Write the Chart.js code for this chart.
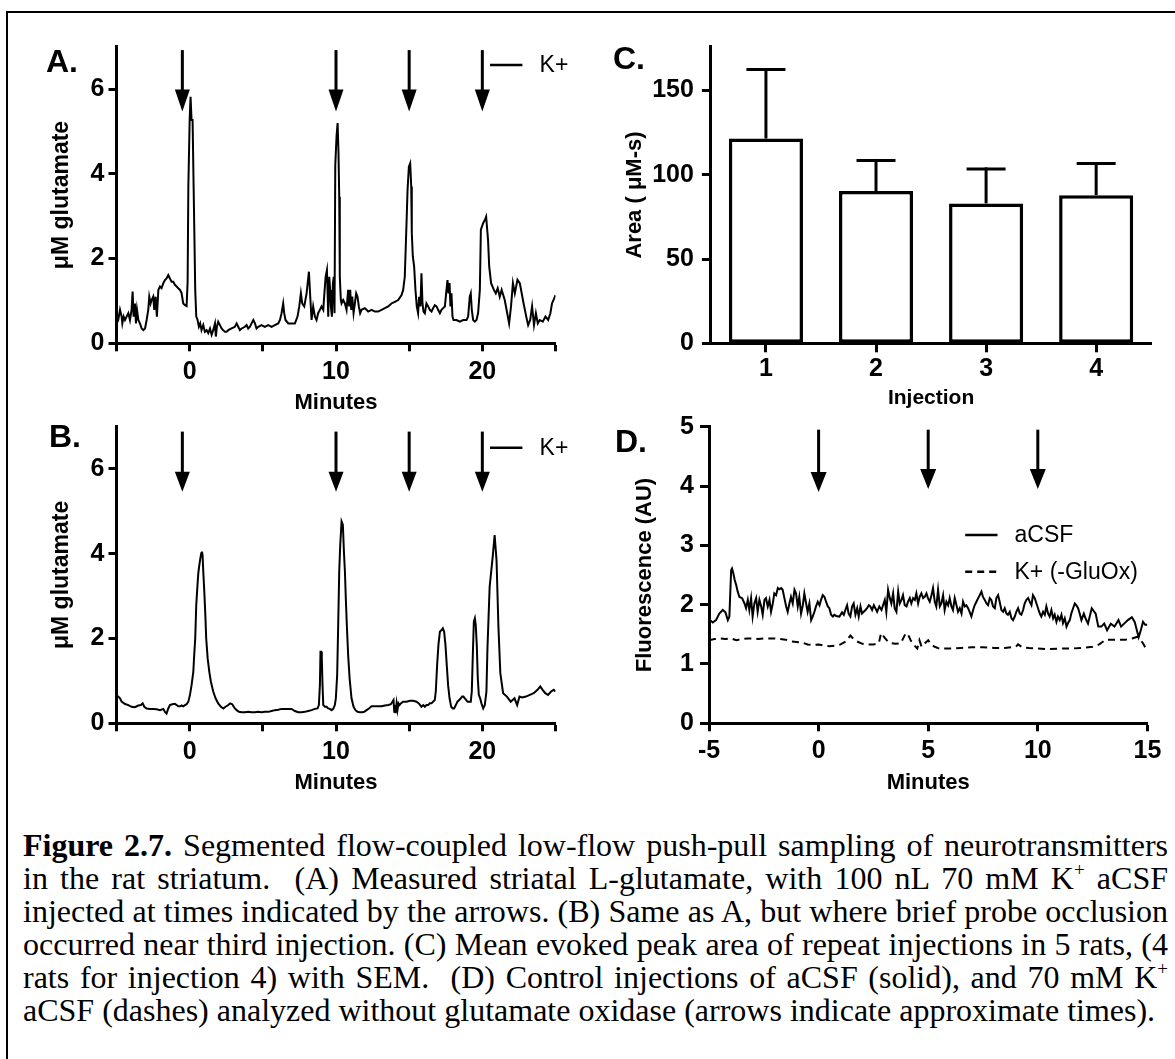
<!DOCTYPE html>
<html>
<head>
<meta charset="utf-8">
<script src="https://cdn.jsdelivr.net/npm/chart.js@4.4.1/dist/chart.umd.min.js"></script>
<style>
html,body{margin:0;padding:0;background:#fff;}
body{width:1175px;height:1059px;position:relative;overflow:hidden;font-family:'Liberation Sans',Arial,sans-serif;color:#000;}
canvas{position:absolute;left:0;top:0;pointer-events:none;}
.frame{position:absolute;left:6px;top:11px;width:1250px;height:1100px;border-top:2px solid #000;border-left:2px solid #000;}
.plabel{position:absolute;font:bold 32px 'Liberation Sans',Arial,sans-serif;line-height:32px;}
.caption{position:absolute;left:23px;top:829px;width:1145px;font-family:'Liberation Serif','Times New Roman',serif;font-size:32px;line-height:33px;color:#000;}
.caption div{white-space:nowrap;height:33px;}
.caption .sp{font-size:19px;position:relative;top:-13px;line-height:0;}
</style>
</head>
<body>
<div class="frame"></div>
<canvas id="cA" width="1175" height="800"></canvas>
<canvas id="cB" width="1175" height="800"></canvas>
<canvas id="cC" width="1175" height="800"></canvas>
<canvas id="cD" width="1175" height="800"></canvas>
<div class="plabel" style="left:46px;top:45px;">A.</div>
<div class="plabel" style="left:49px;top:420px;">B.</div>
<div class="plabel" style="left:613px;top:42px;">C.</div>
<div class="plabel" style="left:615px;top:425px;">D.</div>
<div class="caption">
<div class="j"><span><b>Figure 2.7.</b> Segmented flow-coupled low-flow push-pull sampling of neurotransmitters</span></div>
<div class="j"><span>in the rat striatum.&nbsp; (A) Measured striatal L-glutamate, with 100 nL 70 mM K<span class="sp">+</span> aCSF</span></div>
<div class="j"><span>injected at times indicated by the arrows. (B) Same as A, but where brief probe occlusion</span></div>
<div class="j"><span>occurred near third injection. (C) Mean evoked peak area of repeat injections in 5 rats, (4</span></div>
<div class="j"><span>rats for injection 4) with SEM.&nbsp; (D) Control injections of aCSF (solid), and 70 mM K<span class="sp">+</span></span></div>
<div><span>aCSF (dashes) analyzed without glutamate oxidase (arrows indicate approximate times).</span></div>
</div>
<script>
// ---------------- DATA ----------------
// Panel A: time (min), glutamate (uM)
const traceA = [[-5.0,0.45],[-4.88,0.55],[-4.76,0.79],[-4.65,0.63],[-4.6,0.47],[-4.51,0.63],[-4.42,0.55],[-4.31,0.63],[-4.19,0.71],[-4.08,0.55],[-3.97,0.79],[-3.9,1.22],[-3.83,0.63],[-3.74,0.94],[-3.67,0.47],[-3.6,0.79],[-3.51,0.55],[-3.4,0.47],[-3.28,0.35],[-3.17,0.31],[-3.05,0.35],[-2.94,0.55],[-2.83,0.79],[-2.76,1.1],[-2.67,0.94],[-2.6,1.02],[-2.49,1.1],[-2.42,0.79],[-2.33,1.1],[-2.24,0.63],[-2.14,1.26],[-2.03,1.34],[-1.92,1.3],[-1.8,1.42],[-1.69,1.49],[-1.58,1.53],[-1.46,1.61],[-1.35,1.53],[-1.23,1.45],[-1.12,1.45],[-1.01,1.38],[-0.89,1.34],[-0.78,1.3],[-0.66,1.26],[-0.55,1.18],[-0.44,0.94],[-0.32,0.9],[-0.21,0.88],[-0.14,1.45],[-0.09,3.7],[0.0,5.27],[0.06,5.82],[0.13,5.27],[0.2,5.27],[0.27,3.7],[0.31,2.83],[0.38,1.26],[0.45,0.63],[0.54,0.55],[0.63,0.39],[0.72,0.47],[0.81,0.31],[0.93,0.43],[1.04,0.27],[1.16,0.31],[1.27,0.24],[1.39,0.35],[1.5,0.2],[1.61,0.31],[1.73,0.47],[1.79,0.16],[1.86,0.39],[1.95,0.51],[2.07,0.43],[2.18,0.35],[2.29,0.31],[2.41,0.27],[2.52,0.27],[2.64,0.31],[2.86,0.35],[3.09,0.39],[3.21,0.47],[3.32,0.39],[3.43,0.31],[3.55,0.35],[3.78,0.39],[3.89,0.43],[4.0,0.35],[4.12,0.39],[4.23,0.47],[4.35,0.55],[4.46,0.47],[4.57,0.35],[4.69,0.39],[4.91,0.43],[5.14,0.39],[5.37,0.43],[5.6,0.39],[5.82,0.43],[6.05,0.47],[6.17,0.55],[6.28,0.71],[6.39,0.94],[6.46,0.71],[6.55,0.55],[6.74,0.47],[6.96,0.47],[7.19,0.47],[7.37,0.63],[7.49,0.87],[7.6,1.18],[7.69,0.94],[7.83,0.87],[7.99,1.18],[8.15,1.69],[8.24,1.1],[8.33,0.55],[8.44,0.87],[8.56,0.63],[8.67,0.55],[8.78,0.71],[8.9,0.79],[9.01,0.87],[9.13,0.79],[9.19,1.1],[9.29,1.57],[9.38,1.73],[9.42,1.26],[9.47,0.63],[9.54,1.57],[9.6,1.26],[9.65,0.87],[9.72,0.63],[9.79,1.42],[9.85,1.57],[9.9,0.71],[9.95,4.2],[10.04,4.9],[10.11,5.2],[10.17,4.5],[10.22,3.46],[10.26,1.57],[10.33,1.02],[10.38,0.94],[10.49,1.02],[10.61,0.94],[10.72,0.79],[10.83,1.26],[10.9,0.87],[10.97,1.26],[11.04,0.79],[11.11,1.1],[11.2,0.71],[11.29,0.94],[11.38,1.18],[11.47,1.1],[11.56,0.87],[11.65,0.71],[11.74,0.79],[11.97,0.83],[12.2,0.75],[12.43,0.79],[12.66,0.75],[12.88,0.75],[13.11,0.79],[13.34,0.83],[13.57,0.87],[13.79,0.94],[14.02,0.98],[14.25,1.02],[14.48,1.14],[14.59,1.26],[14.7,1.57],[14.82,2.84],[14.89,3.62],[14.98,4.17],[15.07,4.25],[15.14,3.7],[15.18,2.6],[15.25,2.05],[15.34,1.81],[15.43,1.26],[15.52,0.87],[15.61,0.71],[15.68,1.1],[15.77,0.87],[15.84,1.65],[15.91,0.94],[15.98,0.75],[16.07,0.71],[16.18,0.94],[16.3,0.87],[16.41,0.79],[16.53,0.75],[16.64,0.83],[16.75,0.9],[16.87,0.87],[16.98,0.79],[17.1,0.71],[17.21,0.79],[17.32,0.83],[17.44,0.87],[17.55,1.26],[17.62,1.49],[17.69,1.18],[17.76,1.42],[17.82,0.87],[17.89,1.18],[17.96,0.63],[18.03,0.55],[18.23,0.55],[18.46,0.51],[18.69,0.55],[18.92,0.55],[19.03,0.63],[19.14,1.1],[19.21,1.18],[19.28,0.79],[19.37,0.55],[19.49,0.51],[19.6,0.55],[19.71,0.71],[19.83,1.26],[19.9,2.68],[20.06,2.84],[20.17,2.91],[20.26,2.99],[20.39,2.44],[20.47,1.81],[20.6,1.42],[20.79,1.26],[20.92,1.18],[21.05,1.3],[21.19,1.1],[21.32,1.26],[21.53,1.02],[21.7,0.71],[21.83,0.47],[21.96,0.87],[22.09,1.42],[22.22,1.18],[22.4,1.5],[22.56,1.42],[22.69,1.18],[22.82,0.94],[23.0,0.63],[23.13,0.43],[23.27,0.55],[23.4,0.87],[23.53,0.43],[23.66,0.71],[23.79,0.47],[23.92,0.55],[24.13,0.51],[24.31,0.63],[24.5,0.55],[24.65,0.71],[24.76,0.94],[24.91,1.06],[25.0,1.14]];

// Panel B: time (min), glutamate (uM)
const traceB = [[-5.0,0.65],[-4.88,0.63],[-4.76,0.59],[-4.65,0.51],[-4.42,0.455],[-4.19,0.43],[-3.97,0.39],[-3.74,0.38],[-3.51,0.42],[-3.33,0.43],[-3.21,0.47],[-3.1,0.39],[-2.94,0.35],[-2.71,0.34],[-2.49,0.34],[-2.26,0.33],[-2.03,0.31],[-1.8,0.34],[-1.69,0.27],[-1.58,0.23],[-1.46,0.35],[-1.35,0.43],[-1.19,0.45],[-1.01,0.46],[-0.89,0.43],[-0.78,0.40],[-0.66,0.40],[-0.55,0.42],[-0.44,0.40],[-0.32,0.43],[-0.21,0.45],[-0.09,0.51],[0.02,0.67],[0.13,0.9],[0.25,1.22],[0.31,1.61],[0.38,2.0],[0.45,2.79],[0.52,3.18],[0.59,3.54],[0.66,3.73],[0.73,3.89],[0.79,4.01],[0.84,4.05],[0.88,3.97],[0.93,3.58],[1.0,3.11],[1.07,2.56],[1.13,2.0],[1.23,1.53],[1.34,1.22],[1.45,0.98],[1.61,0.75],[1.77,0.59],[1.95,0.47],[2.14,0.39],[2.3,0.35],[2.45,0.39],[2.64,0.43],[2.77,0.47],[2.91,0.45],[3.05,0.37],[3.21,0.31],[3.37,0.27],[3.55,0.26],[3.78,0.26],[4.0,0.27],[4.23,0.26],[4.46,0.26],[4.69,0.27],[4.91,0.26],[5.14,0.27],[5.37,0.27],[5.6,0.29],[5.82,0.31],[6.05,0.32],[6.28,0.34],[6.51,0.34],[6.74,0.34],[6.96,0.34],[7.19,0.29],[7.42,0.26],[7.65,0.26],[7.87,0.27],[8.1,0.29],[8.33,0.31],[8.56,0.34],[8.74,0.35],[8.83,0.43],[8.9,0.9],[8.94,1.69],[8.99,1.69],[9.03,1.53],[9.08,0.9],[9.13,0.43],[9.24,0.39],[9.35,0.39],[9.47,0.35],[9.58,0.34],[9.7,0.31],[9.81,0.34],[9.92,0.43],[9.99,0.59],[10.08,1.14],[10.15,2.32],[10.22,3.58],[10.29,4.21],[10.38,4.76],[10.47,4.68],[10.54,4.05],[10.61,3.58],[10.67,2.95],[10.74,2.32],[10.83,1.61],[10.93,1.06],[11.06,0.59],[11.2,0.39],[11.33,0.31],[11.47,0.27],[11.63,0.26],[11.79,0.26],[11.93,0.27],[12.09,0.31],[12.25,0.35],[12.43,0.40],[12.66,0.40],[12.88,0.40],[13.11,0.40],[13.34,0.42],[13.57,0.43],[13.75,0.45],[13.86,0.51],[13.93,0.55],[13.98,0.27],[14.02,0.43],[14.07,0.24],[14.14,0.47],[14.2,0.31],[14.27,0.47],[14.34,0.43],[14.43,0.47],[14.59,0.51],[14.82,0.51],[15.05,0.53],[15.27,0.53],[15.5,0.51],[15.66,0.47],[15.75,0.43],[15.84,0.39],[15.96,0.43],[16.07,0.39],[16.18,0.43],[16.3,0.43],[16.41,0.47],[16.53,0.47],[16.64,0.51],[16.75,0.55],[16.82,0.75],[16.91,1.37],[17.0,1.85],[17.1,2.16],[17.21,2.2],[17.3,2.24],[17.39,2.16],[17.48,1.85],[17.57,1.37],[17.66,0.9],[17.76,0.59],[17.87,0.39],[17.98,0.35],[18.07,0.35],[18.19,0.43],[18.3,0.51],[18.42,0.55],[18.53,0.59],[18.62,0.63],[18.71,0.63],[18.8,0.59],[18.89,0.55],[18.99,0.51],[19.1,0.51],[19.21,0.51],[19.28,0.75],[19.35,1.61],[19.42,2.4],[19.49,2.48],[19.55,2.32],[19.62,1.85],[19.69,1.06],[19.76,0.67],[19.85,0.59],[19.94,0.47],[20.06,0.35],[20.17,0.43],[20.28,0.75],[20.35,1.77],[20.5,3.22],[20.71,3.93],[20.84,4.44],[20.97,3.85],[21.1,2.28],[21.23,1.18],[21.42,0.71],[21.68,0.63],[21.94,0.51],[22.2,0.59],[22.38,0.43],[22.54,0.63],[22.72,0.61],[22.98,0.63],[23.25,0.67],[23.51,0.71],[23.77,0.79],[23.96,0.87],[24.12,0.79],[24.3,0.71],[24.49,0.67],[24.7,0.75],[24.88,0.79],[25.0,0.75]];

// Injection times (arrows) in A and B
const arrowTimesAB = [-0.5, 10, 15, 20];

// Panel C: mean evoked peak area with SEM
const cLabels = ['1', '2', '3', '4'];
const cMeans = [121.5, 90.3, 83.0, 87.9];
const cSEM = [40.9, 18.2, 20.5, 18.8];

// Panel D: time (min), fluorescence (AU)
const traceDaCSF = [[-5.0,1.72],[-4.95,1.74],[-4.83,1.70],[-4.68,1.74],[-4.53,1.85],[-4.37,1.91],[-4.25,1.87],[-4.14,1.74],[-4.07,1.80],[-3.99,2.58],[-3.95,2.61],[-3.89,2.53],[-3.83,2.42],[-3.76,2.33],[-3.69,2.22],[-3.61,2.13],[-3.49,2.11],[-3.38,2.02],[-3.31,1.94],[-3.23,2.08],[-3.16,1.91],[-3.08,2.11],[-3.01,1.80],[-2.93,2.02],[-2.85,2.11],[-2.78,1.88],[-2.70,2.08],[-2.62,1.97],[-2.55,1.83],[-2.47,2.08],[-2.40,2.11],[-2.32,1.97],[-2.24,2.08],[-2.17,1.88],[-2.09,2.02],[-2.02,2.19],[-1.94,2.16],[-1.86,2.28],[-1.79,2.26],[-1.71,2.28],[-1.64,2.25],[-1.56,2.11],[-1.48,1.97],[-1.41,1.88],[-1.33,2.02],[-1.26,2.13],[-1.18,2.02],[-1.10,2.25],[-1.03,2.19],[-0.95,1.97],[-0.88,2.13],[-0.80,1.85],[-0.72,1.99],[-0.65,2.19],[-0.57,2.02],[-0.50,1.88],[-0.42,2.02],[-0.34,1.74],[-0.27,1.80],[-0.19,1.88],[-0.12,1.97],[-0.04,2.05],[0.04,1.99],[0.11,2.08],[0.19,2.16],[0.27,2.13],[0.34,2.05],[0.42,1.97],[0.49,1.94],[0.57,1.83],[0.65,1.80],[0.72,1.83],[0.80,1.81],[0.95,1.80],[1.07,1.87],[1.15,1.83],[1.22,1.91],[1.30,1.99],[1.37,1.85],[1.45,1.80],[1.53,1.97],[1.60,2.02],[1.68,1.83],[1.76,1.94],[1.83,1.80],[1.91,1.97],[1.98,1.85],[2.06,1.88],[2.14,1.91],[2.21,1.94],[2.29,1.99],[2.36,1.97],[2.44,1.91],[2.52,1.99],[2.59,1.94],[2.67,1.88],[2.77,1.97],[2.87,1.91],[2.94,1.99],[3.02,2.08],[3.09,1.88],[3.17,2.25],[3.25,2.11],[3.32,2.02],[3.40,2.19],[3.47,1.94],[3.55,1.88],[3.63,2.22],[3.70,2.02],[3.78,2.08],[3.85,2.16],[3.93,1.99],[4.01,1.97],[4.08,2.05],[4.16,2.11],[4.23,2.02],[4.31,2.11],[4.39,2.08],[4.46,2.19],[4.54,2.02],[4.61,2.13],[4.69,2.19],[4.77,2.11],[4.84,2.13],[4.92,2.19],[4.99,2.11],[5.07,2.05],[5.15,2.16],[5.22,2.28],[5.30,2.05],[5.37,1.97],[5.45,2.25],[5.53,1.97],[5.60,2.02],[5.68,2.16],[5.75,1.91],[5.83,2.05],[5.91,1.99],[5.98,2.11],[6.06,1.97],[6.13,1.91],[6.21,2.11],[6.29,1.99],[6.36,1.88],[6.44,1.94],[6.52,1.85],[6.59,2.05],[6.67,1.97],[6.74,1.99],[6.82,1.94],[6.89,1.88],[6.97,1.80],[7.05,1.91],[7.12,1.99],[7.20,2.05],[7.28,2.11],[7.35,2.16],[7.43,2.22],[7.50,2.13],[7.58,2.08],[7.66,2.02],[7.73,1.99],[7.81,2.11],[7.88,2.08],[7.96,1.97],[8.04,1.94],[8.11,2.11],[8.19,2.16],[8.26,2.05],[8.34,1.91],[8.42,1.88],[8.49,1.94],[8.57,1.85],[8.64,1.83],[8.72,1.88],[8.80,1.77],[8.87,1.74],[8.95,1.80],[9.02,1.88],[9.10,1.94],[9.18,1.85],[9.25,1.83],[9.33,1.91],[9.40,2.02],[9.48,2.08],[9.56,2.11],[9.63,2.05],[9.71,1.99],[9.78,2.16],[9.86,2.11],[9.94,2.02],[10.01,1.94],[10.09,1.85],[10.16,1.80],[10.24,1.88],[10.32,1.83],[10.39,1.97],[10.47,1.85],[10.54,1.80],[10.62,1.91],[10.70,1.77],[10.77,1.83],[10.85,1.71],[10.92,1.80],[11.00,1.74],[11.08,1.83],[11.15,1.69],[11.23,1.77],[11.31,1.63],[11.38,1.69],[11.46,1.74],[11.53,1.85],[11.61,1.94],[11.69,2.02],[11.76,1.99],[11.84,1.94],[11.91,1.85],[11.99,1.74],[12.1,1.85],[12.2,1.75],[12.29,1.68],[12.46,1.94],[12.64,1.85],[12.76,1.63],[12.9,1.63],[13.03,1.68],[13.16,1.57],[13.33,1.68],[13.5,1.63],[13.68,1.74],[13.8,1.63],[13.94,1.68],[14.11,1.74],[14.29,1.79],[14.42,1.71],[14.6,1.45],[14.7,1.57],[14.8,1.71],[14.9,1.66],[15.0,1.66]];
const traceDK = [[-5.0,1.40],[-4.75,1.42],[-4.5,1.43],[-4.25,1.42],[-4.0,1.43],[-3.75,1.40],[-3.5,1.42],[-3.25,1.43],[-3.0,1.43],[-2.75,1.42],[-2.5,1.43],[-2.25,1.43],[-2.0,1.43],[-1.75,1.42],[-1.5,1.41],[-1.25,1.38],[-1.0,1.37],[-0.75,1.36],[-0.5,1.33],[-0.25,1.32],[0.0,1.33],[0.25,1.31],[0.5,1.30],[0.75,1.31],[1.0,1.33],[1.25,1.38],[1.45,1.48],[1.6,1.42],[1.75,1.38],[2.0,1.34],[2.25,1.33],[2.5,1.33],[2.75,1.35],[2.85,1.52],[3.0,1.45],[3.2,1.36],[3.5,1.34],[3.75,1.35],[3.95,1.50],[4.05,1.52],[4.2,1.40],[4.35,1.32],[4.5,1.26],[4.6,1.40],[4.7,1.29],[4.85,1.35],[5.0,1.40],[5.15,1.32],[5.3,1.29],[5.5,1.26],[6.0,1.26],[6.5,1.27],[7.0,1.28],[7.5,1.28],[8.0,1.27],[8.5,1.27],[9.0,1.29],[9.1,1.33],[9.3,1.28],[9.6,1.27],[10.0,1.26],[10.5,1.25],[11.0,1.26],[11.5,1.26],[12.0,1.27],[12.5,1.29],[12.8,1.33],[13.1,1.41],[13.5,1.41],[14.0,1.41],[14.3,1.43],[14.55,1.46],[14.8,1.35],[15.0,1.21]];
const arrowTimesD = [0, 5, 10];

// Tick values
const xTicksAB = [-5, 0, 5, 10, 15, 20, 25];
const xLabelsAB = [0, 10, 20];
const yTicksAB = [0, 2, 4, 6];
const yTicksC = [0, 50, 100, 150];
const xTicksD = [-5, 0, 5, 10, 15];
const yTicksD = [0, 1, 2, 3, 4, 5];

// ---------------- RENDERING ----------------
Chart.defaults.font.family = "'Liberation Sans', Arial, sans-serif";
Chart.defaults.color = '#000';

const toXY = arr => arr.map(p => ({x: p[0], y: p[1]}));

const arrowPlugin = {
  id: 'arrows',
  afterDatasetsDraw(chart, args, o) {
    if (!o || !o.times) return;
    const {ctx} = chart; const xs = chart.scales.x, ys = chart.scales.y;
    ctx.save();
    ctx.fillStyle = '#000'; ctx.strokeStyle = '#000'; ctx.lineCap = 'butt';
    o.times.forEach((t, i) => {
      const px = xs.getPixelForValue(t);
      const yTop = ys.getPixelForValue(o.top);
      const tipV = Array.isArray(o.tip) ? o.tip[i] : o.tip;
      const yTip = ys.getPixelForValue(tipV);
      const hl = o.headLen, hw = o.headWidth / 2;
      ctx.lineWidth = o.lineWidth;
      ctx.beginPath(); ctx.moveTo(px, yTop); ctx.lineTo(px, yTip - hl + 2); ctx.stroke();
      ctx.beginPath(); ctx.moveTo(px - hw, yTip - hl); ctx.lineTo(px + hw, yTip - hl); ctx.lineTo(px, yTip); ctx.closePath(); ctx.fill();
    });
    ctx.restore();
  }
};

const keyPlugin = {
  id: 'keyLegend',
  afterDraw(chart, args, o) {
    if (!o || !o.items) return;
    const ctx = chart.ctx;
    ctx.save();
    o.items.forEach(it => {
      const ds = chart.data.datasets[it.ds];
      ctx.strokeStyle = '#000'; ctx.lineWidth = 2.5;
      ctx.setLineDash(ds.borderDash || []);
      ctx.beginPath(); ctx.moveTo(it.x1, it.y); ctx.lineTo(it.x2, it.y); ctx.stroke();
      ctx.setLineDash([]);
      ctx.fillStyle = '#000';
      ctx.font = "23px 'Liberation Sans', Arial, sans-serif";
      ctx.textBaseline = 'middle'; ctx.textAlign = 'left';
      ctx.fillText(ds.label, it.tx, it.y + 1);
    });
    ctx.restore();
  }
};

const semPlugin = {
  id: 'semBars',
  afterDatasetsDraw(chart, args, o) {
    if (!o || !o.sem) return;
    const {ctx} = chart; const xs = chart.scales.x, ys = chart.scales.y;
    const ds = chart.data.datasets[0];
    ctx.save(); ctx.strokeStyle = '#000'; ctx.lineWidth = o.lineWidth; ctx.lineCap = 'butt';
    ds.data.forEach((m, i) => {
      const px = xs.getPixelForValue(i);
      const y0 = ys.getPixelForValue(m), y1 = ys.getPixelForValue(m + o.sem[i]);
      ctx.beginPath(); ctx.moveTo(px, y0); ctx.lineTo(px, y1 - o.lineWidth / 2); ctx.stroke();
      ctx.beginPath(); ctx.moveTo(px - o.cap / 2, y1); ctx.lineTo(px + o.cap / 2, y1); ctx.stroke();
    });
    ctx.restore();
  }
};

function axis(opts) {
  const a = {
    type: opts.type || 'linear',
    offset: opts.offset || false,
    border: {display: true, color: '#000', width: 3},
    grid: {display: true, drawOnChartArea: false, drawTicks: true, tickLength: opts.tl, tickWidth: 3, tickColor: '#000', color: '#000', offset: false},
    ticks: {color: '#000', font: {size: 25, weight: 'bold'}, padding: opts.pad, autoSkip: false, maxRotation: 0, minRotation: 0},
    afterFit: opts.w !== undefined ? (s => { s.width = opts.w; }) : (s => { s.height = opts.h; }),
    title: {display: true, text: opts.title, color: '#000', font: {size: opts.tsize, weight: 'bold'}, padding: opts.tpad}
  };
  if (opts.min !== undefined) a.min = opts.min;
  if (opts.max !== undefined) a.max = opts.max;
  if (opts.cb) a.ticks.callback = opts.cb;
  if (opts.tv) a.afterBuildTicks = s => { s.ticks = opts.tv.map(v => ({value: v})); };
  return a;
}

function baseOpts(padding) {
  return {
    responsive: false, animation: false, devicePixelRatio: 1,
    layout: {padding},
    elements: {point: {radius: 0}, line: {tension: 0}},
    plugins: {legend: {display: false}, tooltip: {enabled: false}}
  };
}

function glutChart(id, trace, padding, arrowCfg, keyY) {
  const o = baseOpts(padding);
  o.plugins.arrows = arrowCfg;
  o.plugins.keyLegend = {items: [{ds: 0, x1: 490, x2: 522.4, y: keyY, tx: 539.6}]};
  o.scales = {
    x: axis({min: -5, max: 25, tl: 8, pad: 5.4, tv: xTicksAB, cb: v => xLabelsAB.includes(v) ? String(v) : '',
             h: 76.7, title: 'Minutes', tsize: 22, tpad: {top: 0, bottom: 3.8}}),
    y: axis({min: 0, max: 7, tl: 8, pad: 4, tv: yTicksAB, cb: v => String(v),
             w: 96.5, title: 'μM glutamate', tsize: 23, tpad: {top: 27.4, bottom: 0}})
  };
  return new Chart(document.getElementById(id), {
    type: 'line',
    data: {datasets: [{label: 'K+', data: toXY(trace), borderColor: '#000', borderWidth: 2, pointRadius: 0, fill: false}]},
    options: o,
    plugins: [arrowPlugin, keyPlugin]
  });
}

glutChart('cA', traceA, {left: 20, top: 46.7, right: 619.5, bottom: 380},
  {times: arrowTimesAB, top: 6.92, tip: 5.47, headLen: 22, headWidth: 15, lineWidth: 3}, 65);
glutChart('cB', traceB, {left: 20, top: 426.5, right: 619.5, bottom: 0},
  {times: arrowTimesAB, top: 6.88, tip: 5.46, headLen: 20, headWidth: 15, lineWidth: 3}, 447.7);

// Panel C
(function () {
  const o = baseOpts({left: 580, top: 46.7, right: 23.8, bottom: 380});
  o.plugins.semBars = {sem: cSEM, cap: 39, lineWidth: 3};
  o.scales = {
    x: axis({type: 'category', offset: true, tl: 9, pad: 1.7, h: 76.7, title: 'Injection', tsize: 21, tpad: {top: 0, bottom: 9.1},
             cb: (v, i) => cLabels[i]}),
    y: axis({min: 0, max: 176, tl: 9, pad: 8, tv: yTicksC, cb: v => String(v), w: 130.9, title: 'Area ( μM-s)', tsize: 22, tpad: {top: 41.8, bottom: 0}})
  };
  new Chart(document.getElementById('cC'), {
    type: 'bar',
    data: {labels: cLabels, datasets: [{label: 'Area', data: cMeans, backgroundColor: '#fff', borderColor: '#000', borderWidth: 3.5,
      borderSkipped: false, barPercentage: 0.673, categoryPercentage: 1.0}]},
    options: o,
    plugins: [semPlugin]
  });
})();

// Panel D
(function () {
  const o = baseOpts({left: 580, top: 426.7, right: 27.6, bottom: 0});
  o.plugins.arrows = {times: arrowTimesD, top: 4.95, tip: [3.9, 3.95, 3.95], headLen: 20, headWidth: 16, lineWidth: 3};
  o.plugins.keyLegend = {items: [{ds: 0, x1: 965.2, x2: 997.5, y: 535, tx: 1014.5}, {ds: 1, x1: 965.2, x2: 997.5, y: 571.7, tx: 1014.5}]};
  o.scales = {
    x: axis({min: -5, max: 15, tl: 8, pad: 4.5, tv: xTicksD, cb: v => String(v), h: 76.7, title: 'Minutes', tsize: 22, tpad: {top: 0, bottom: 3.5}}),
    y: axis({min: 0, max: 5, tl: 9, pad: 6, tv: yTicksD, cb: v => String(v), w: 129, title: 'Fluorescence (AU)', tsize: 22, tpad: {top: 52, bottom: 0}})
  };
  new Chart(document.getElementById('cD'), {
    type: 'line',
    data: {datasets: [
      {label: 'aCSF', data: toXY(traceDaCSF), borderColor: '#000', borderWidth: 2, pointRadius: 0, fill: false},
      {label: 'K+ (-GluOx)', data: toXY(traceDK), borderColor: '#000', borderWidth: 2, borderDash: [7, 5], pointRadius: 0, fill: false}
    ]},
    options: o,
    plugins: [arrowPlugin, keyPlugin]
  });
})();

// Caption: justify each line to full width
function justify() {
  document.querySelectorAll('.caption .j > span').forEach(sp => {
    sp.style.wordSpacing = '0px';
    const w = sp.getBoundingClientRect().width;
    const n = (sp.textContent.match(/[ \u00A0]/g) || []).length;
    if (n > 0) sp.style.wordSpacing = ((1145 - w) / n) + 'px';
  });
}
justify();
if (document.fonts && document.fonts.ready) document.fonts.ready.then(justify);
</script>
</body>
</html>
